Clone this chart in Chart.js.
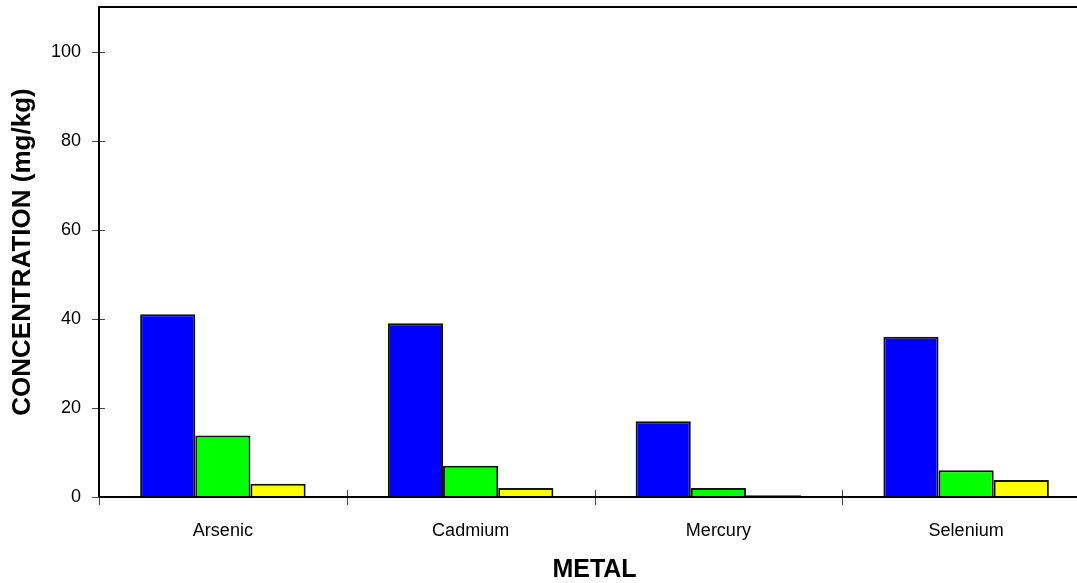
<!DOCTYPE html>
<html><head><meta charset="utf-8">
<script src="https://cdn.jsdelivr.net/npm/chart.js@4.4.0/dist/chart.umd.min.js"></script>
<style>html,body{margin:0;padding:0;background:#fff;overflow:hidden}</style>
</head><body>
<canvas id="c" width="1090" height="583" style="width:1090px;height:583px;display:block"></canvas>
<script>
const categories = ['Arsenic', 'Cadmium', 'Mercury', 'Selenium'];
const seriesBlue = [41, 39, 17, 36];
const seriesGreen = [13.8, 7, 2, 6];
const seriesYellow = [3, 2, 0.4, 3.8];
const yTickValues = [0, 20, 40, 60, 80, 100];
const yTitle = 'CONCENTRATION (mg/kg)';
const xTitle = 'METAL';

const FONT = "'Liberation Sans', Arial, sans-serif";

const frame = {
  id: 'frame',
  afterDatasetsDraw(chart) {
    const {ctx, chartArea: a, scales: {x, y}} = chart;
    ctx.save();
    ctx.strokeStyle = '#444';
    ctx.lineWidth = 1;
    yTickValues.forEach(v => {
      const py = Math.round(y.getPixelForValue(v)) + 0.5;
      ctx.beginPath(); ctx.moveTo(a.left - 7, py); ctx.lineTo(a.left + 6, py); ctx.stroke();
    });
    for (let i = 0; i <= categories.length; i++) {
      const px = Math.round(x.getPixelForValue(i - 0.5)) + 0.5;
      ctx.beginPath(); ctx.moveTo(px, a.bottom - 7); ctx.lineTo(px, a.bottom + 8); ctx.stroke();
    }
    ctx.strokeStyle = '#000';
    ctx.lineWidth = 2;
    ctx.beginPath();
    ctx.moveTo(a.left, a.bottom); ctx.lineTo(a.left, a.top); ctx.lineTo(a.right + 5, a.top);
    ctx.moveTo(a.left, a.bottom); ctx.lineTo(a.right + 5, a.bottom);
    ctx.stroke();
    ctx.restore();
  }
};

const mk = (data, color) => ({
  data, backgroundColor: color, borderColor: '#111', borderWidth: 2,
  borderSkipped: 'bottom', barPercentage: 1, categoryPercentage: 0.668
});

new Chart(document.getElementById('c'), {
  type: 'bar',
  data: {
    labels: categories,
    datasets: [mk(seriesBlue, '#0000ff'), mk(seriesGreen, '#00ff00'), mk(seriesYellow, '#ffff00')]
  },
  options: {
    responsive: false,
    animation: false,
    devicePixelRatio: 1,
    layout: {padding: {top: 7, left: 0, right: 0, bottom: 0}},
    plugins: {legend: {display: false}, tooltip: {enabled: false}},
    scales: {
      x: {
        grid: {display: false, drawTicks: false},
        border: {display: false},
        ticks: {color: '#000', font: {family: FONT, size: 18}, padding: 23},
        title: {display: true, text: xTitle, color: '#000', font: {family: FONT, size: 25, weight: 'bold'}, padding: {top: 0, bottom: -2}},
        afterFit(s) { s.height = 86; s.paddingLeft = 0; s.paddingRight = 0; }
      },
      y: {
        min: 0, max: 110,
        grid: {display: false, drawTicks: false},
        border: {display: false},
        afterBuildTicks(s) { s.ticks = yTickValues.map(v => ({value: v})); },
        ticks: {color: '#000', font: {family: FONT, size: 18}, padding: 18},
        title: {display: true, text: yTitle, color: '#000', font: {family: FONT, size: 26, weight: 'bold'}, padding: {top: 7, bottom: 0}},
        afterFit(s) { s.width = 99; s.paddingTop = 0; s.paddingBottom = 0; }
      }
    }
  },
  plugins: [frame]
});
</script>
</body></html>
